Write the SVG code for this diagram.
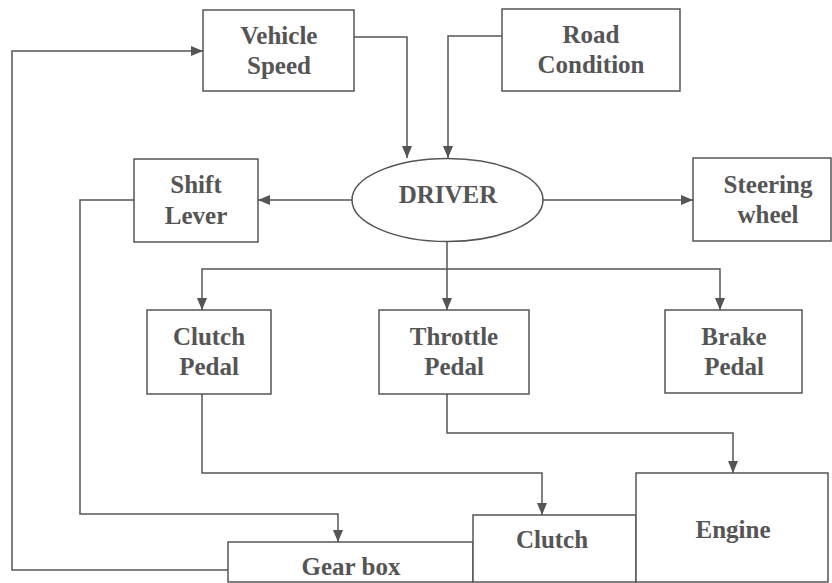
<svg xmlns="http://www.w3.org/2000/svg" width="832" height="583" viewBox="0 0 832 583">
<style>
.box{fill:#fff;stroke:#555;stroke-width:1.5}
.ln{fill:none;stroke:#555;stroke-width:1.5}
.t{font-family:"Liberation Serif","Times New Roman",serif;font-weight:bold;font-size:25px;fill:#555;text-anchor:middle}
</style>
<defs>
<marker id="ah" markerWidth="12" markerHeight="10" refX="12" refY="5" orient="auto" markerUnits="userSpaceOnUse">
<path d="M0,0 L12,5 L0,10 Z" fill="#555"/>
</marker>
</defs>
<rect width="832" height="583" fill="#fff"/>
<g id="connectors">
<path class="ln" d="M354,37 H407 V158" marker-end="url(#ah)"/>
<path class="ln" d="M502,36 H448 V158" marker-end="url(#ah)"/>
<path class="ln" d="M352,200 H258" marker-end="url(#ah)"/>
<path class="ln" d="M543,200 H693" marker-end="url(#ah)"/>
<path class="ln" d="M447,241 V310" marker-end="url(#ah)"/>
<path class="ln" d="M447,269 H202 V310" marker-end="url(#ah)"/>
<path class="ln" d="M447,269 H720 V310" marker-end="url(#ah)"/>
<path class="ln" d="M134,200 H80 V514 H338 V542" marker-end="url(#ah)"/>
<path class="ln" d="M228,570 H12 V51 H203" marker-end="url(#ah)"/>
<path class="ln" d="M202,394 V473 H542 V515" marker-end="url(#ah)"/>
<path class="ln" d="M447,394 V433 H733 V473" marker-end="url(#ah)"/>
</g>
<g id="vehicle-speed"><rect class="box" x="203" y="10" width="151" height="81"/><text class="t" x="279" y="44">Vehicle</text><text class="t" x="279" y="74">Speed</text></g>
<g id="road-condition"><rect class="box" x="502" y="9" width="178" height="82"/><text class="t" x="591" y="43">Road</text><text class="t" x="591" y="73">Condition</text></g>
<g id="driver"><ellipse class="box" cx="447.5" cy="200" rx="95.5" ry="41.5"/><text class="t" x="448" y="203">DRIVER</text></g>
<g id="shift-lever"><rect class="box" x="134" y="159" width="124" height="83"/><text class="t" x="196" y="193">Shift</text><text class="t" x="196" y="224">Lever</text></g>
<g id="steering-wheel"><rect class="box" x="693" y="158" width="138" height="83"/><text class="t" x="768" y="193">Steering</text><text class="t" x="768" y="223">wheel</text></g>
<g id="clutch-pedal"><rect class="box" x="147" y="310" width="124" height="84"/><text class="t" x="209" y="345">Clutch</text><text class="t" x="209" y="375">Pedal</text></g>
<g id="throttle-pedal"><rect class="box" x="379" y="310" width="150" height="84"/><text class="t" x="454" y="345">Throttle</text><text class="t" x="454" y="375">Pedal</text></g>
<g id="brake-pedal"><rect class="box" x="665" y="310" width="137" height="83"/><text class="t" x="734" y="345">Brake</text><text class="t" x="734" y="375">Pedal</text></g>
<g id="gear-box"><rect class="box" x="228" y="542" width="245" height="40"/><text class="t" x="351" y="575">Gear box</text></g>
<g id="clutch"><rect class="box" x="473" y="515" width="163" height="67"/><text class="t" x="552" y="548">Clutch</text></g>
<g id="engine"><rect class="box" x="636" y="473" width="192" height="109"/><text class="t" x="733" y="538">Engine</text></g>
</svg>
